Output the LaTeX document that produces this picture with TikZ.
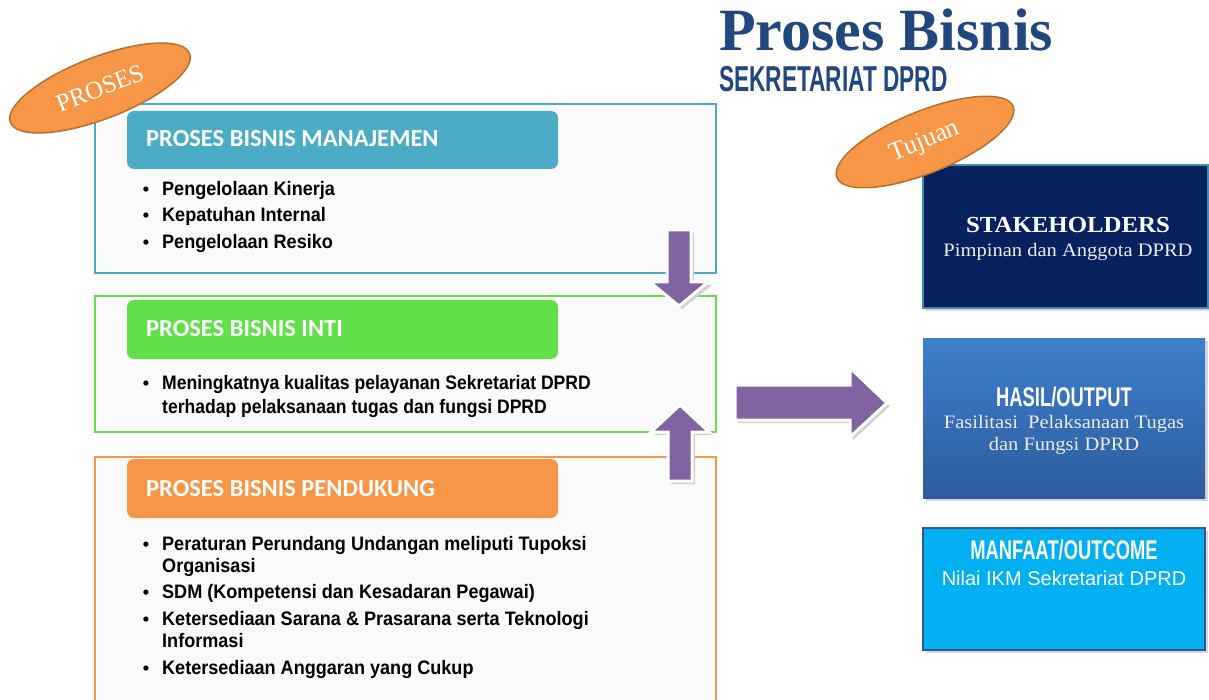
\documentclass[tikz,border=0pt]{standalone}
\usepackage{fontspec}
\setmainfont{Liberation Serif}
\newfontfamily\hdfont{Carlito}
\newfontfamily\bodyfont{Liberation Sans}
\newfontfamily\serfont{Liberation Serif}
\usetikzlibrary{calc,shapes.geometric}
\definecolor{mgmtblue}{HTML}{4BACC6}
\definecolor{coregreen}{HTML}{62E04A}
\definecolor{suporange}{HTML}{F79646}
\definecolor{ovalrim}{HTML}{B8702F}
\definecolor{arrowpurple}{HTML}{8064A2}
\definecolor{titleblue}{HTML}{21477F}
\definecolor{navybox}{HTML}{07215E}
\definecolor{navyrim}{HTML}{3F8FA8}
\definecolor{outtop}{HTML}{3C80CD}
\definecolor{outbot}{HTML}{2D5C9C}
\definecolor{skyfill}{HTML}{00B0F0}
\definecolor{skyrim}{HTML}{2F5A92}
\definecolor{panelfill}{HTML}{FAFAFA}
\tikzset{
  panel/.style={line width=2pt, fill=panelfill},
  header/.style={rounded corners=7pt},
  hdtext/.style={anchor=base west, inner sep=0pt, text=white,
    font=\hdfont\bfseries\fontsize{24.5}{28}\selectfont},
  itemtext/.style={anchor=base west, inner sep=0pt, xscale=0.927,
    font=\bodyfont\bfseries\fontsize{19.5}{22}\selectfont},
  bullet/.style={anchor=base, inner sep=0pt, font=\bodyfont\bfseries\fontsize{18}{22}\selectfont},
  oval/.style={ellipse, fill=suporange, draw=ovalrim, line width=1.5pt},
  ovaltext/.style={text=white, inner sep=0pt, font=\serfont\fontsize{25}{28}\selectfont},
  blockarrow/.style={fill=arrowpurple, draw=white, line width=3pt, line join=miter},
  arrowshadow/.style={fill=black!18, draw=none},
  boxshadow/.style={fill=black!15, draw=none},
  heavy/.style={inner sep=0pt, text=white, xscale=0.68,
    font=\bodyfont\bfseries\fontsize{27}{30}\selectfont},
  serifline/.style={inner sep=0pt, text=white!92!black, xscale=1.08,
    font=\serfont\fontsize{19}{22}\selectfont},
}
% bullet item: name, x, baseline y, text
\newcommand\bitem[4]{%
  \node[bullet] (#1b) at (146,#3) {•};
  \node[itemtext] (#1) at (#2,#3) {#4};}
% continuation line of an item: name, x, baseline y, text
\newcommand\bcont[4]{%
  \node[itemtext] (#1) at (#2,#3) {#4};}
\begin{document}
\begin{tikzpicture}[x=1pt,y=-1pt]
\useasboundingbox (0,0) rectangle (1209,700);
\clip (0,0) rectangle (1209,700);
\fill[white] (0,0) rectangle (1209,700);

% --- title
\node[anchor=base west, inner sep=0pt, text=titleblue,
  font=\serfont\bfseries\fontsize{60}{64}\selectfont] (title) at (719,51) {Proses Bisnis};
\node[anchor=base west, inner sep=0pt, text=titleblue, xscale=0.63,
  font=\bodyfont\bfseries\fontsize{36}{40}\selectfont] (subtitle) at (719,92) {SEKRETARIAT DPRD};

% --- left panels
\draw[panel, draw=mgmtblue] (95,104) rectangle (716,273);
\fill[mgmtblue, header] (127,111) rectangle (558,169);
\node[hdtext] (hmgmt) at (146,147) {PROSES BISNIS MANAJEMEN};
\bitem{m1}{162}{196}{Pengelolaan Kinerja}
\bitem{m2}{162}{222}{Kepatuhan Internal}
\bitem{m3}{162}{249}{Pengelolaan Resiko}

\draw[panel, draw=coregreen] (95,296) rectangle (716,432);
\fill[coregreen, header] (127,300) rectangle (558,359);
\node[hdtext] (hcore) at (146,337) {PROSES BISNIS INTI};
\begin{scope}[itemtext/.append style={xscale=0.972}]
\bitem{c1}{162}{389}{Meningkatnya kualitas pelayanan Sekretariat DPRD}
\bcont{c1x}{162}{413}{terhadap pelaksanaan tugas dan fungsi DPRD}
\end{scope}

\draw[panel, draw=suporange] (95,457) rectangle (716,720);
\fill[suporange, header] (127,459) rectangle (558,518);
\node[hdtext] (hsup) at (146,496) {PROSES BISNIS PENDUKUNG};
\bitem{s1}{162}{550}{Peraturan Perundang Undangan meliputi Tupoksi}
\bcont{s1x}{162}{572}{Organisasi}
\bitem{s2}{162}{598}{SDM (Kompetensi dan Kesadaran Pegawai)}
\bitem{s3}{162}{625}{Ketersediaan Sarana \& Prasarana serta Teknologi}
\bcont{s3x}{162}{647}{Informasi}
\bitem{s4}{162}{674}{Ketersediaan Anggaran yang Cukup}

% --- block arrows
\fill[arrowshadow] (670,233) -- (694,233) -- (694,285) -- (712,285) -- (682,309) -- (652,285) -- (670,285) -- cycle;
\draw[blockarrow] (667,230) -- (691,230) -- (691,282) -- (708,282) -- (679,306) -- (650,282) -- (667,282) -- cycle;
\fill[arrowshadow] (671,484) -- (695,484) -- (695,435) -- (712,435) -- (683,408) -- (654,435) -- (671,435) -- cycle;
\draw[blockarrow] (668,481) -- (692,481) -- (692,432) -- (709,432) -- (680,405) -- (651,432) -- (668,432) -- cycle;
\fill[arrowshadow] (738,388) -- (853,388) -- (853,371) -- (890,406) -- (853,440) -- (853,423) -- (738,423) -- cycle;
\draw[blockarrow] (735,385) -- (850,385) -- (850,368) -- (887,403) -- (850,437) -- (850,420) -- (735,420) -- cycle;

% --- right column
\fill[boxshadow] (926,168) rectangle (1212,311);
\draw[fill=navybox, draw=navyrim, line width=1.5pt] (923,165) rectangle (1208,308);
\node[inner sep=0pt, text=white, xscale=1.08, font=\serfont\bfseries\fontsize{23}{26}\selectfont, anchor=base] (stake) at (1068,233) {STAKEHOLDERS};
\node[serifline, anchor=base] (staked) at (1068,257) {Pimpinan dan Anggota DPRD};

\fill[boxshadow] (926,341) rectangle (1208,501);
\shade[top color=outtop, bottom color=outbot] (923,338) rectangle (1205,498);
\node[heavy, anchor=base] (outp) at (1064,406) {HASIL/OUTPUT};
\node[serifline, anchor=base] (outp1) at (1064,428) {Fasilitasi\ \ Pelaksanaan Tugas};
\node[serifline, anchor=base] (outp2) at (1064,450) {dan Fungsi DPRD};

\fill[boxshadow] (926,531) rectangle (1208,653);
\draw[fill=skyfill, draw=skyrim, line width=2pt] (923,528) rectangle (1205,650);
\node[heavy, anchor=base] (outc) at (1064,559) {MANFAAT/OUTCOME};
\node[inner sep=0pt, text=white, anchor=base, font=\bodyfont\fontsize{20}{24}\selectfont] (outc1) at (1064,585) {Nilai IKM Sekretariat DPRD};

% --- tag ovals
\node[oval, minimum width=192pt, minimum height=62pt, rotate=21] (proses) at (100,88) {};
\node[ovaltext, rotate=21] at (proses.center) {PROSES};
\node[oval, minimum width=190pt, minimum height=62pt, rotate=22] (tujuan) at (925,142) {};
\node[ovaltext, rotate=22, font=\serfont\fontsize{26}{28}\selectfont] at (tujuan.center) {Tujuan};
\end{tikzpicture}
\end{document}
